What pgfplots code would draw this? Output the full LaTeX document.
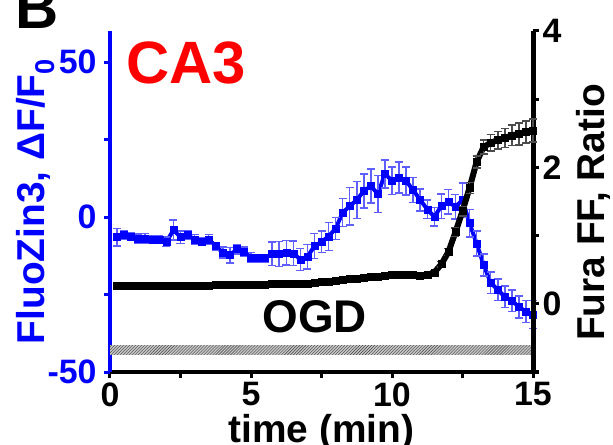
\documentclass[border=0pt]{standalone}
\usepackage{fontspec}
\setmainfont{Liberation Sans}
\usepackage{pgfplots}
\pgfplotsset{compat=1.18}
\usepackage{pgfplotstable}
\usetikzlibrary{patterns}

\definecolor{zblue}{RGB}{0,0,255}
\definecolor{zred}{RGB}{255,0,0}
\definecolor{ebblue}{RGB}{95,95,255}

\newcommand{\fs}[1]{\fontsize{#1}{#1}\selectfont\bfseries}

% FluoZin3, dF/F0 (left axis)
\pgfplotstableread{
t v e
0.25 -6.5 2.8
0.50 -5.8 1.5
0.75 -6.3 1.3
1.00 -7.0 1.5
1.25 -6.9 1.5
1.50 -7.4 1.2
1.75 -7.4 1.2
2.00 -8.0 1.5
2.25 -4.2 3.2
2.50 -6.5 2.0
2.75 -5.8 1.5
3.00 -7.2 1.5
3.25 -8.0 1.2
3.50 -7.2 1.5
3.75 -9.4 1.2
4.00 -11.5 1.8
4.25 -12.3 2.5
4.50 -10.4 1.5
4.75 -11.2 1.5
5.00 -13.0 1.5
5.25 -13.3 1.2
5.50 -13.3 1.2
5.75 -11.9 3.8
6.00 -11.9 4.0
6.25 -11.5 4.0
6.50 -11.7 4.0
6.75 -13.7 3.5
7.00 -12.8 4.0
7.25 -9.4 4.0
7.50 -8.0 3.5
7.75 -6.3 4.5
8.00 -3.7 3.5
8.25 1.4 4.5
8.50 3.5 6.0
8.75 5.5 6.0
9.00 8.4 5.5
9.25 10.0 5.5
9.50 7.4 6.0
9.75 13.9 4.5
10.00 11.7 4.5
10.25 12.8 5.0
10.50 11.6 4.5
10.75 8.7 4.0
11.00 5.5 3.5
11.25 2.5 3.0
11.50 0.1 3.0
11.75 3.5 4.0
12.00 4.9 4.0
12.25 3.3 4.0
12.50 5.5 5.5
12.75 -2.0 4.5
13.00 -8.5 4.0
13.25 -15.5 3.5
13.50 -21.2 3.5
13.75 -23.5 3.5
14.00 -25.7 3.5
14.25 -27.0 3.5
14.50 -29.0 3.5
14.75 -30.5 3.5
15.00 -31.5 4.5
}\fluo

% Fura FF ratio (right axis)
\pgfplotstableread{
t v e
0.25 0.27 0.02
0.50 0.27 0.02
0.75 0.27 0.02
1.00 0.27 0.02
1.25 0.27 0.02
1.50 0.27 0.02
1.75 0.27 0.02
2.00 0.27 0.02
2.25 0.27 0.02
2.50 0.27 0.02
2.75 0.27 0.02
3.00 0.27 0.02
3.25 0.27 0.02
3.50 0.27 0.02
3.75 0.28 0.02
4.00 0.28 0.02
4.25 0.28 0.02
4.50 0.28 0.02
4.75 0.28 0.02
5.00 0.28 0.02
5.25 0.28 0.02
5.50 0.28 0.02
5.75 0.29 0.02
6.00 0.29 0.02
6.25 0.29 0.02
6.50 0.29 0.02
6.75 0.29 0.02
7.00 0.29 0.02
7.25 0.31 0.02
7.50 0.32 0.02
7.75 0.33 0.02
8.00 0.34 0.02
8.25 0.35 0.02
8.50 0.36 0.02
8.75 0.37 0.02
9.00 0.38 0.02
9.25 0.39 0.02
9.50 0.40 0.02
9.75 0.41 0.02
10.00 0.42 0.02
10.25 0.43 0.02
10.50 0.43 0.02
10.75 0.42 0.02
11.00 0.41 0.02
11.25 0.42 0.03
11.50 0.46 0.03
11.75 0.58 0.04
12.00 0.76 0.05
12.25 1.05 0.06
12.50 1.36 0.07
12.75 1.70 0.08
13.00 2.08 0.09
13.25 2.30 0.10
13.50 2.36 0.12
13.75 2.40 0.13
14.00 2.43 0.14
14.25 2.47 0.15
14.50 2.49 0.16
14.75 2.52 0.16
15.00 2.54 0.17
}\fura

\begin{document}
\begin{tikzpicture}
\pgfplotsset{
  common/.style={
    scale only axis, width=423bp, height=341bp,
    xmin=0, xmax=15, clip=false,
    tick align=outside,
    major tick length=6bp, minor tick length=6bp,
    tick style={line width=3bp},
    ticklabel style={font=\fs{34}},
    /pgf/number format/assume math mode=true,
    label style={font=\fs{39}},
  },
}
\begin{axis}[common,
  axis x line*=bottom, axis y line*=left,
  ymin=-50, ymax=60,
  xtick={0,5,10,15}, minor xtick={2.5,7.5,12.5},
  ytick={-50,0,50}, minor ytick={-25,25},
  x axis line style={black, line width=4.5bp},
  y axis line style={zblue, line width=4.5bp},
  xtick style={black}, ytick style={zblue},
  yticklabel style={text=zblue, xshift=-4bp},
  xticklabel style={yshift=-1bp},
  xlabel={time (min)},
  xlabel style={at={(axis description cs:0.5,-0.2053)}, anchor=base},
  ylabel={FluoZin3, ΔF/F\textsubscript{0}},
  ylabel style={at={(axis description cs:-0.156,0.5)}, anchor=base, text=zblue},
]
\addplot[draw=none, fill=gray!45, postaction={pattern=north east lines, pattern color=black!75}]
  coordinates {(0,-44.5) (15,-44.5) (15,-41.3) (0,-41.3)} -- cycle;
\addplot[zblue, line width=4bp, mark=square*, mark size=3.5bp,
  mark options={line width=0.5bp, fill=zblue},
  error bars/.cd, y dir=both, y explicit, error mark=-,
  error bar style={ebblue, line width=1.5bp},
  error mark options={rotate=90, ebblue, line width=1.5bp, mark size=4bp}]
  table[x=t, y=v, y error=e] {\fluo};
\node[anchor=base, font=\fs{46}] at (axis description cs:0.4837,0.1144) {OGD};
\node[anchor=base west, inner sep=0pt, font=\fs{60}, text=zred] at (axis description cs:0.038,0.8475) {CA3};
\node[anchor=base west, inner sep=0pt, font=\fs{60}] at (axis description cs:-0.2246,1.0088) {B};
\end{axis}
\begin{axis}[common,
  axis x line=none, axis y line*=right,
  ymin=-1, ymax=4,
  ytick={0,2,4}, minor ytick={-1,1,3},
  y axis line style={black, line width=5bp},
  ytick style={black},
  ylabel={Fura FF, Ratio},
  ylabel style={at={(axis description cs:1.168,0.468)}, anchor=base},
]
\addplot[black, line width=6bp, mark=square*, mark size=3.5bp,
  mark options={line width=0.5bp, fill=black},
  error bars/.cd, y dir=both, y explicit, error mark=-,
  error bar style={black!70, line width=1.5bp},
  error mark options={rotate=90, black!70, line width=1.5bp, mark size=4bp}]
  table[x=t, y=v, y error=e] {\fura};
\end{axis}
\pgfresetboundingbox
\path[use as bounding box] (-110bp,-73bp) rectangle (503bp,372bp);
\end{tikzpicture}
\end{document}
